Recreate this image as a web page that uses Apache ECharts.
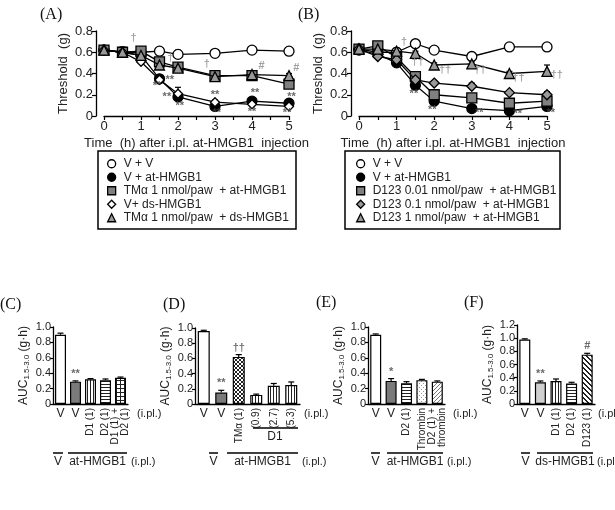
<!DOCTYPE html>
<html>
<head>
<meta charset="utf-8">
<script src="https://cdn.jsdelivr.net/npm/echarts@6/dist/echarts.min.js"></script>
<style>
  html, body { margin: 0; padding: 0; background: #fff; }
  #main { width: 615px; height: 510px; }
</style>
</head>
<body>
<div id="main"></div>
<script>
// ---- time course data (A, B) ----
var hours = [0, 0.5, 1, 1.5, 2, 3, 4, 5];

var aNames = ['V + V', 'V + at-HMGB1', 'TMα 1 nmol/paw  + at-HMGB1', 'V+ ds-HMGB1', 'TMα 1 nmol/paw  + ds-HMGB1'];
var aVV    = [0.62, 0.60, 0.60, 0.61, 0.58, 0.59, 0.62, 0.61];
var aVAt   = [0.62, 0.60, 0.57, 0.35, 0.18, 0.09, 0.14, 0.12];
var aTMAt  = [0.62, 0.60, 0.61, 0.51, 0.46, 0.38, 0.38, 0.30];
var aVDs   = [0.62, 0.60, 0.51, 0.34, 0.21, 0.13, 0.11, 0.09];
var aTMDs  = [0.62, 0.60, 0.57, 0.48, 0.45, 0.37, 0.39, 0.38];
var aVVErr   = [0.03, 0.05, 0.02, 0.02, 0.04, 0.01, 0.02, 0.02];
var aVAtErr  = [0.02, 0.02, 0.03, 0.03, 0.09, 0.02, 0.02, 0.02];
var aTMAtErr = [0.03, 0.02, 0.03, 0.02, 0.02, 0.02, 0.02, 0.05];
var aVDsErr  = [0.02, 0.02, 0.02, 0.02, 0.02, 0.02, 0.02, 0.02];
var aTMDsErr = [0.03, 0.02, 0.03, 0.02, 0.02, 0.02, 0.02, 0.02];
// [hour, value, mark]
var aNotes = [
  [0.8, 0.73, '†'], [1.8, 0.55, '†'], [2.78, 0.49, '†'], [4.26, 0.47, '#'], [5.2, 0.45, '#'],
  [1.43, 0.28, '**'], [1.78, 0.34, '**'], [1.7, 0.18, '**'], [2.05, 0.09, '**'],
  [3.0, 0.20, '**'], [3.05, 0.03, '**'], [4.08, 0.22, '**'], [4.0, 0.04, '**'],
  [5.07, 0.18, '**'], [4.95, 0.03, '**']
];

var bNames = ['V + V', 'V + at-HMGB1', 'D123 0.01 nmol/paw  + at-HMGB1', 'D123 0.1 nmol/paw  + at-HMGB1', 'D123 1 nmol/paw  + at-HMGB1'];
var bVV    = [0.63, 0.60, 0.60, 0.68, 0.62, 0.56, 0.65, 0.65];
var bVAt   = [0.62, 0.58, 0.50, 0.29, 0.14, 0.07, 0.05, 0.09];
var bD001  = [0.63, 0.66, 0.55, 0.37, 0.20, 0.17, 0.12, 0.14];
var bD01   = [0.63, 0.56, 0.53, 0.34, 0.31, 0.28, 0.22, 0.20];
var bD1    = [0.63, 0.63, 0.61, 0.59, 0.48, 0.49, 0.40, 0.42];
var bVVErr   = [0.02, 0.02, 0.02, 0.03, 0.02, 0.02, 0.02, 0.02];
var bVAtErr  = [0.02, 0.02, 0.02, 0.02, 0.02, 0.01, 0.01, 0.01];
var bD001Err = [0.02, 0.02, 0.02, 0.02, 0.02, 0.02, 0.02, 0.02];
var bD01Err  = [0.02, 0.02, 0.02, 0.02, 0.02, 0.03, 0.02, 0.03];
var bD1Err   = [0.02, 0.02, 0.03, 0.02, 0.02, 0.02, 0.02, 0.06];
var bNotes = [
  [1.2, 0.70, '†'], [1.56, 0.51, '††'], [2.29, 0.43, '††'], [3.22, 0.43, '††'],
  [4.24, 0.355, '††'], [5.26, 0.385, '††'],
  [1.46, 0.21, '**'], [1.95, 0.06, '**'], [3.2, 0.025, '**'], [4.22, 0.02, '**'], [5.1, 0.025, '**']
];

// ---- AUC bar data (C-F) ----
var cLabels = ['V', 'V', 'D1 (1)', 'D2 (1)', 'D1 (1) +\nD2 (1)'];
var cAUC    = [0.90, 0.29, 0.32, 0.31, 0.34];
var cErr    = [0.02, 0.01, 0.01, 0.015, 0.01];
var cMarks  = ['', '**', '', '', ''];

var dLabels = ['V', 'V', 'TMα (1)', '(0.9)', '(2.7)', '(5.3)'];
var dAUC    = [0.96, 0.15, 0.62, 0.12, 0.24, 0.25];
var dErr    = [0.01, 0.03, 0.03, 0.01, 0.03, 0.04];
var dMarks  = ['', '**', '††', '', '', ''];

var eLabels = ['V', 'V', 'D2 (1)', 'Thrombin', 'D2 (1) +\nthrombin'];
var eAUC    = [0.90, 0.30, 0.27, 0.31, 0.29];
var eErr    = [0.01, 0.03, 0.02, 0.01, 0.01];
var eMarks  = ['', '*', '', '', ''];

var fLabels = ['V', 'V', 'D1 (1)', 'D2 (1)', 'D123 (1)'];
var fAUC    = [0.98, 0.33, 0.35, 0.31, 0.75];
var fErr    = [0.01, 0.02, 0.03, 0.02, 0.02];
var fMarks  = ['', '**', '', '', '#'];

var FONT = 'Liberation Sans, Arial, sans-serif';
var INK = '#222';

function yFmt(v) { return v === 0 ? '0' : v.toFixed(1); }

// fill patterns for the bars
function pattern(kind) {
  var c = document.createElement('canvas');
  var n = kind === 'bold' ? 5 : (kind === 'vstripe' || kind === 'hstripe') ? 3 : 4;
  c.width = n; c.height = n;
  var g = c.getContext('2d');
  g.fillStyle = '#fff'; g.fillRect(0, 0, n, n);
  g.fillStyle = '#222';
  var x, y;
  if (kind === 'vstripe') g.fillRect(0, 0, 1, n);
  if (kind === 'hstripe') g.fillRect(0, 0, n, 1);
  if (kind === 'grid') { g.fillRect(0, 0, 1, n); g.fillRect(0, 0, n, 1); }
  if (kind === 'cross') for (x = 0; x < n; x++) { g.fillRect(x, x, 1, 1); g.fillRect(x, n - 1 - x, 1, 1); }
  if (kind === 'dots') { g.fillStyle = '#999'; g.fillRect(1, 1, 1, 1); g.fillRect(3, 3, 1, 1); }
  if (kind === 'diag') { g.fillStyle = '#777'; for (x = 0; x < n; x++) g.fillRect(x, n - 1 - x, 1, 1); }
  if (kind === 'bold') for (x = 0; x < n; x++) for (y = 0; y < n; y++) if (((x - y) % n + n) % n < 2) g.fillRect(x, y, 1, 1);
  return { image: c, repeat: 'repeat' };
}
function fill(kind) {
  if (kind === 'white') return '#fff';
  if (kind === 'dark') return '#7a7a7a';
  if (kind === 'light') return '#d0d0d0';
  return pattern(kind);
}

var grids = [
  { left: 104, top: 31, width: 185, height: 85 },
  { left: 359, top: 31, width: 188, height: 85 }
];
var xAxes = [];
var yAxes = [];
var series = [];

[0, 1].forEach(function (k) {
  xAxes.push({
    type: 'value', gridIndex: k, min: 0, max: 5, interval: 0.5,
    axisLine: { onZero: false, lineStyle: { color: '#000', width: 1.3 } },
    axisTick: { length: 4, lineStyle: { color: '#000', width: 1.2 } },
    axisLabel: { fontSize: 13, margin: 4, color: INK, fontFamily: FONT,
      formatter: function (v) { return v % 1 === 0 ? String(v) : ''; } },
    splitLine: { show: false },
    name: 'Time  (h) after i.pl. at-HMGB1  injection', nameLocation: 'middle', nameGap: 21,
    nameTextStyle: { fontSize: 13, color: INK, fontFamily: FONT }
  });
  yAxes.push({
    type: 'value', gridIndex: k, min: 0, max: 0.8, interval: 0.2, offset: 8,
    axisLine: { show: true, onZero: false, lineStyle: { color: '#000', width: 1.3 } },
    axisTick: { show: true, length: 4, lineStyle: { color: '#000', width: 1.2 } },
    axisLabel: { fontSize: 13, margin: 3, color: INK, fontFamily: FONT, formatter: yFmt },
    splitLine: { show: false },
    name: 'Threshold  (g)', nameLocation: 'middle', nameGap: 26,
    nameTextStyle: { fontSize: 13, color: INK, fontFamily: FONT }
  });
});

function errSeries(xi, yi, xs, ys, es) {
  return {
    type: 'custom', xAxisIndex: xi, yAxisIndex: yi, z: 1, silent: true, clip: false,
    data: xs.map(function (x, i) { return [x, ys[i], es[i]]; }),
    renderItem: function (params, api) {
      var e = api.value(2);
      if (!e) return null;
      var p0 = api.coord([api.value(0), api.value(1)]);
      var p1 = api.coord([api.value(0), api.value(1) + e]);
      return { type: 'group', children: [
        { type: 'line', shape: { x1: p0[0], y1: p0[1], x2: p1[0], y2: p1[1] }, style: { stroke: '#000', lineWidth: 1.2 } },
        { type: 'line', shape: { x1: p1[0] - 3, y1: p1[1], x2: p1[0] + 3, y2: p1[1] }, style: { stroke: '#000', lineWidth: 1.2 } }
      ] };
    }
  };
}

function noteSeries(xi, yi, notes, size) {
  return {
    type: 'scatter', xAxisIndex: xi, yAxisIndex: yi, z: 6, silent: true, clip: false,
    symbolSize: 1, itemStyle: { color: 'rgba(0,0,0,0)' },
    data: notes.map(function (n) {
      var dark = n[2].indexOf('*') >= 0;
      return { value: [n[0], n[1]], label: { formatter: n[2], color: dark ? '#444' : '#888' } };
    }),
    label: { show: true, position: 'inside', fontSize: size, fontFamily: FONT, fontWeight: 'bold' }
  };
}

var aStyles = [
  { symbol: 'circle', size: 10, color: '#fff' },
  { symbol: 'circle', size: 10, color: '#000' },
  { symbol: 'rect', size: 10, color: '#808080' },
  { symbol: 'diamond', size: 9, color: '#fff' },
  { symbol: 'triangle', size: 10, color: '#999' }
];
var bStyles = [
  { symbol: 'circle', size: 10, color: '#fff' },
  { symbol: 'circle', size: 10, color: '#000' },
  { symbol: 'rect', size: 10, color: '#808080' },
  { symbol: 'diamond', size: 10, color: '#999' },
  { symbol: 'triangle', size: 10, color: '#999' }
];

function lineSeries(k, name, vals, st, z) {
  return {
    type: 'line', name: name, xAxisIndex: k, yAxisIndex: k, z: z,
    data: hours.map(function (h, i) { return [h, vals[i]]; }),
    symbol: st.symbol, symbolSize: st.size,
    itemStyle: { color: st.color, borderColor: '#000', borderWidth: 1.3 },
    lineStyle: { color: '#000', width: 1.3 }
  };
}

var aSets = [[aVV, aVVErr], [aVAt, aVAtErr], [aTMAt, aTMAtErr], [aVDs, aVDsErr], [aTMDs, aTMDsErr]];
var bSets = [[bVV, bVVErr], [bVAt, bVAtErr], [bD001, bD001Err], [bD01, bD01Err], [bD1, bD1Err]];
aSets.forEach(function (s, i) {
  series.push(errSeries(0, 0, hours, s[0], s[1]));
  series.push(lineSeries(0, aNames[i], s[0], aStyles[i], 3 + i * 0.1));
});
bSets.forEach(function (s, i) {
  series.push(errSeries(1, 1, hours, s[0], s[1]));
  series.push(lineSeries(1, bNames[i], s[0], bStyles[i], 3 + i * 0.1));
});
series.push(noteSeries(0, 0, aNotes, 11));
series.push(noteSeries(1, 1, bNotes, 11));

// ---- bar panels ----
var panels = [
  { grid: { left: 53, top: 327, width: 75, height: 77 }, max: 1.0, barWidth: 11,
    labels: cLabels, vals: cAUC, err: cErr, marks: cMarks,
    fills: ['white', 'dark', 'vstripe', 'hstripe', 'grid'] },
  { grid: { left: 195, top: 328, width: 105, height: 76 }, max: 1.0, barWidth: 12,
    labels: dLabels, vals: dAUC, err: dErr, marks: dMarks,
    fills: ['white', 'dark', 'cross', 'vstripe', 'vstripe', 'vstripe'] },
  { grid: { left: 368, top: 327, width: 77, height: 77 }, max: 1.0, barWidth: 11,
    labels: eLabels, vals: eAUC, err: eErr, marks: eMarks,
    fills: ['white', 'dark', 'hstripe', 'dots', 'diag'] },
  { grid: { left: 517, top: 325, width: 78, height: 79 }, max: 1.2, barWidth: 11,
    labels: fLabels, vals: fAUC, err: fErr, marks: fMarks,
    fills: ['white', 'light', 'vstripe', 'hstripe', 'bold'] }
];

panels.forEach(function (p, k) {
  var gi = 2 + k, xi = 2 + 2 * k, yi = 2 + k;
  var idx = p.labels.map(function (_, i) { return String(i); });
  grids.push(p.grid);
  xAxes.push({
    type: 'category', gridIndex: gi, data: idx, position: 'bottom',
    axisLine: { lineStyle: { color: '#000', width: 1.3 } },
    axisTick: { show: false },
    axisLabel: { interval: 0, margin: 4, fontSize: 12, color: INK, fontFamily: FONT,
      formatter: function (v) { return p.labels[+v] === 'V' ? 'V' : ''; } }
  });
  xAxes.push({
    type: 'category', gridIndex: gi, data: idx, position: 'bottom',
    axisLine: { show: false }, axisTick: { show: false },
    axisLabel: { interval: 0, rotate: 90, margin: 4, fontSize: 10, lineHeight: 10, color: INK, fontFamily: FONT,
      formatter: function (v) { return p.labels[+v] === 'V' ? '' : p.labels[+v]; } }
  });
  yAxes.push({
    type: 'value', gridIndex: gi, min: 0, max: p.max, interval: 0.2,
    axisLine: { show: true, lineStyle: { color: '#000', width: 1.3 } },
    axisTick: { show: true, length: 3, lineStyle: { color: '#000', width: 1.2 } },
    axisLabel: { fontSize: 11, margin: 2, color: INK, fontFamily: FONT, formatter: yFmt },
    splitLine: { show: false },
    name: '{a|AUC}{s|1.5-3.0}{a| (g·h)}', nameLocation: 'middle', nameGap: 22,
    nameTextStyle: { fontFamily: FONT, color: INK,
      rich: { a: { fontSize: 12, lineHeight: 14, fontFamily: FONT, color: INK },
              s: { fontSize: 8, lineHeight: 9, verticalAlign: 'bottom', fontFamily: FONT, color: INK } } }
  });
  series.push({
    type: 'bar', xAxisIndex: xi, yAxisIndex: yi, barWidth: p.barWidth, z: 2,
    data: p.vals.map(function (v, i) { return { value: v, itemStyle: { color: fill(p.fills[i]) } }; }),
    itemStyle: { borderColor: '#000', borderWidth: 1.2 }
  });
  series.push(errSeries(xi, yi, idx.map(Number), p.vals, p.err));
  series.push({
    type: 'scatter', xAxisIndex: xi, yAxisIndex: yi, z: 6, silent: true, clip: false,
    symbolSize: 1, itemStyle: { color: 'rgba(0,0,0,0)' },
    data: p.vals.map(function (v, i) { return { value: [i, v + p.err[i]], label: { formatter: p.marks[i] || ' ' } }; }),
    label: { show: true, position: 'top', distance: 1, fontSize: 11, color: '#444', fontFamily: FONT, fontWeight: 'bold' }
  });
});

// ---- legends ----
function legendData(names, styles) {
  return names.map(function (n, i) {
    return { name: n, icon: styles[i].symbol,
      itemStyle: { color: styles[i].color, borderColor: '#000', borderWidth: 1.3 } };
  });
}
var legendBase = {
  orient: 'vertical', itemWidth: 8, itemHeight: 8, itemGap: 0, selectedMode: false, padding: 0,
  textStyle: { fontSize: 12, lineHeight: 13.5, color: INK, fontFamily: FONT, padding: [0, 0, 0, 3] }
};
var legends = [
  Object.assign({ left: 107, top: 157, data: legendData(aNames, aStyles) }, legendBase),
  Object.assign({ left: 356, top: 157, data: legendData(bNames, bStyles) }, legendBase)
];

// ---- static text / brackets ----
var g = [];
function txt(x, y, s, size, opts) {
  g.push({ type: 'text', x: x, y: y, silent: true,
    style: Object.assign({ text: s, font: size + 'px ' + FONT, fill: INK, textAlign: 'center', textVerticalAlign: 'middle' }, opts || {}) });
}
function hline(x1, x2, y) {
  g.push({ type: 'line', silent: true, shape: { x1: x1, y1: y, x2: x2, y2: y }, style: { stroke: '#000', lineWidth: 1.5 } });
}
function letter(x, y, s) {
  g.push({ type: 'text', x: x, y: y, silent: true,
    style: { text: s, font: '16px Liberation Serif, Times New Roman, serif', fill: '#111', textVerticalAlign: 'middle' } });
}
letter(40, 15, '(A)'); letter(298, 15, '(B)');
letter(0, 305, '(C)'); letter(163, 305, '(D)'); letter(316, 303, '(E)'); letter(464, 303, '(F)');

g.push({ type: 'rect', silent: true, shape: { x: 98, y: 151, width: 198, height: 78 }, style: { fill: 'none', stroke: '#000', lineWidth: 1.5 } });
g.push({ type: 'rect', silent: true, shape: { x: 345, y: 151, width: 215, height: 78 }, style: { fill: 'none', stroke: '#000', lineWidth: 1.5 } });

// (i.pl.) beside tick labels
txt(137, 414, '(i.pl.)', 11, { textAlign: 'left' });
txt(304, 414, '(i.pl.)', 11, { textAlign: 'left' });
txt(453, 414, '(i.pl.)', 11, { textAlign: 'left' });
txt(598, 414, '(i.pl.)', 11, { textAlign: 'left' });

// group brackets under each bar panel
var groups = [
  { v: [53, 63], g: [68, 127], name: 'at-HMGB1' },
  { v: [209, 218], g: [227, 298], name: 'at-HMGB1' },
  { v: [371, 380], g: [387, 443], name: 'at-HMGB1' },
  { v: [521, 530], g: [537, 593], name: 'ds-HMGB1' }
];
groups.forEach(function (b) {
  hline(b.v[0], b.v[1], 453);
  txt((b.v[0] + b.v[1]) / 2, 462, 'V', 12);
  hline(b.g[0], b.g[1], 453);
  txt((b.g[0] + b.g[1]) / 2, 462, b.name, 12);
  txt(b.g[1] + 4, 462, '(i.pl.)', 11, { textAlign: 'left' });
});
hline(253, 298, 428);
txt(275, 437, 'D1', 12);

var chart = echarts.init(document.getElementById('main'));
chart.setOption({
  animation: false,
  backgroundColor: '#fff',
  textStyle: { fontFamily: FONT },
  grid: grids,
  xAxis: xAxes,
  yAxis: yAxes,
  legend: legends,
  series: series,
  graphic: g
});
</script>
</body>
</html>
